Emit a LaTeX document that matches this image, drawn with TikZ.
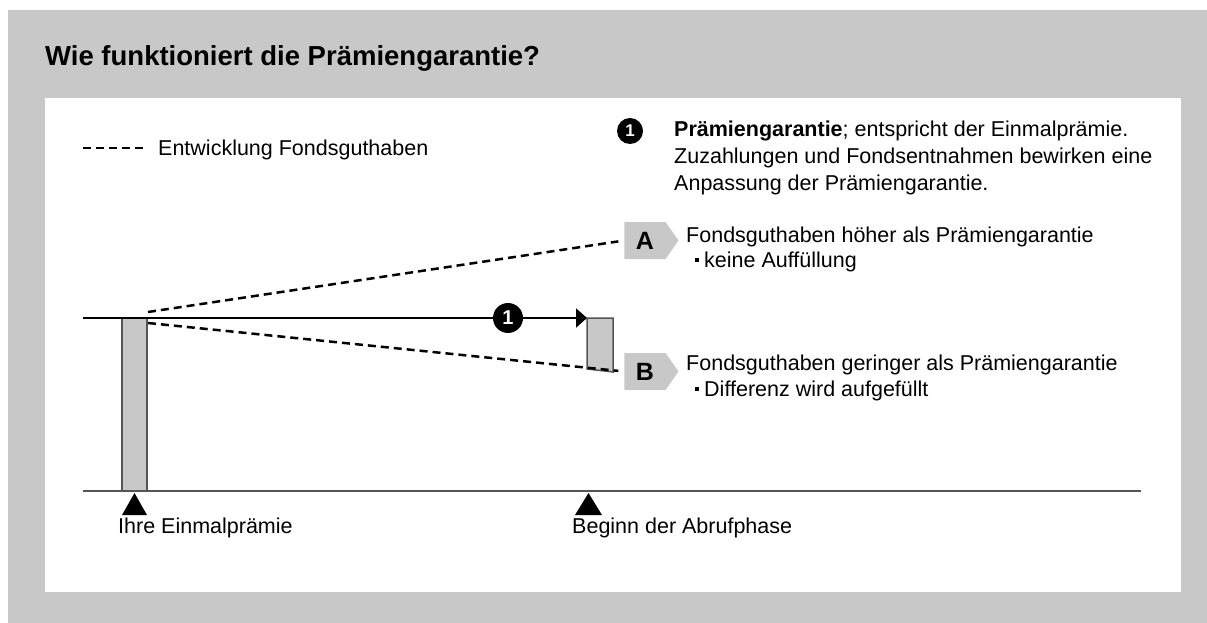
\documentclass[tikz,border=0pt]{standalone}
\usepackage{fontspec}
\setmainfont{Liberation Sans}
\usetikzlibrary{arrows.meta,shapes.symbols}
\definecolor{panelgray}{RGB}{200,200,200}
\definecolor{edgegray}{RGB}{85,85,85}
\newcommand{\blt}{\rule[5pt]{4pt}{4pt}\hspace{5pt}}
\begin{document}
\begin{tikzpicture}[x=1pt,y=-1pt,
  txt/.style={anchor=base west,inner sep=0pt,font=\fontsize{21.5}{24}\selectfont},
  numdot/.style={circle,fill=black,text=white,inner sep=0pt,minimum size=#1,font=\bfseries\fontsize{17}{17}\selectfont},
  tag/.style={shape=signal,signal to=east,signal pointer angle=110,fill=panelgray,inner sep=0pt,minimum width=54pt,minimum height=37pt,font=\bfseries\fontsize{25}{25}\selectfont},
  fonds/.style={dash pattern=on 8pt off 5pt,line width=2.5pt},
  barbox/.style={draw=edgegray,fill=panelgray,line width=1.5pt}]
\useasboundingbox (0,0) rectangle (1207,623);
% background and panel
\fill[panelgray] (8,10) rectangle (1207,623);
\fill[white] (45,98) rectangle (1181,592);
\node[anchor=base west,inner sep=0pt,font=\bfseries\fontsize{27.5}{30}\selectfont] (title) at (45,66) {Wie funktioniert die Prämiengarantie?};
% legend
\coordinate (legA) at (83,148);
\coordinate (legB) at (143,148);
\draw[fonds] (legA) -- (legB);
\node[txt] (legtxt) at (158,155) {Entwicklung Fondsguthaben};
% explanation of 1
\node[numdot=26pt] (nhead) at (630,131) {1};
\node[txt] (h1) at (674,137) {\textbf{Prämiengarantie}; entspricht der Einmalprämie.};
\node[txt] (h2) at (674,163.5) {Zuzahlungen und Fondsentnahmen bewirken eine};
\node[txt] (h3) at (674,190) {Anpassung der Prämiengarantie.};
% bars
\draw[barbox] (122,318) rectangle (147,491);
\filldraw[barbox] (587,318) -- (613,318) -- (613,372) -- (587,369) -- cycle;
% tags
\node[tag] (tagA) at (645,240.5) {A};
\node[tag] (tagB) at (645,371.5) {B};
\coordinate (upstart) at (148,312);
\coordinate (lowstart) at (148,323);
\draw[fonds,shorten >=6pt] (upstart) -- (tagA.west);
\draw[fonds,shorten >=6pt] (lowstart) -- (tagB.west);
% guarantee line
\coordinate (gstart) at (83,318);
\coordinate (gend) at (587,318);
\draw[line width=2pt,-{Triangle[length=11pt,width=19pt]}] (gstart) -- (gend);
\node[numdot=30pt,font=\bfseries\fontsize{20}{20}\selectfont] (nline) at (508,318) {1};
% texts for A and B
\node[txt] (a1) at (686,242) {Fondsguthaben höher als Prämiengarantie};
\node[txt] (a2) at (695,267) {\blt keine Auffüllung};
\node[txt] (b1) at (686,370) {Fondsguthaben geringer als Prämiengarantie};
\node[txt] (b2) at (695,396) {\blt Differenz wird aufgefüllt};
% time axis
\coordinate (ax0) at (83,491);
\coordinate (ax1) at (1141,491);
\draw[edgegray,line width=1.5pt] (ax0) -- (ax1);
\fill (122,515) -- (134.5,493) -- (147,515) -- cycle;
\fill (575,515) -- (588.5,493) -- (602,515) -- cycle;
\node[txt] (t1) at (118,533) {Ihre Einmalprämie};
\node[txt] (t2) at (572,533) {Beginn der Abrufphase};
\end{tikzpicture}
\end{document}
